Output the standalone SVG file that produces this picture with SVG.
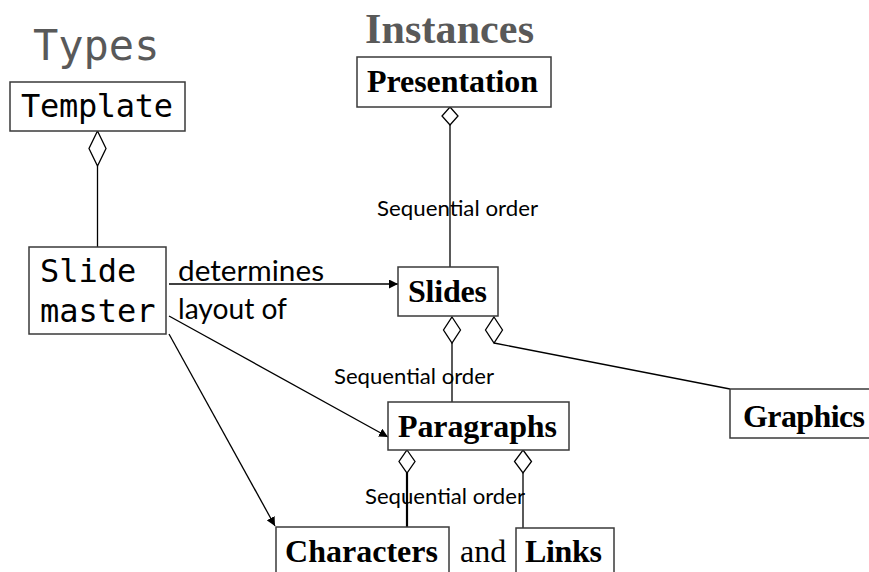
<svg xmlns="http://www.w3.org/2000/svg" width="869" height="572" viewBox="0 0 869 572">
<style>
.box{fill:#fff;stroke:#3a3a3a;stroke-width:1.5}
.mono{font-family:"DejaVu Sans Mono",monospace;font-size:32px;fill:#000}
.bold{font-family:"Liberation Serif",serif;font-weight:bold;font-size:32px;fill:#000}
.serif{font-family:"Liberation Serif",serif;font-size:32px;fill:#000}
.lbl{font-family:Lato,"Open Sans",sans-serif;fill:#000}
.seq{font-size:21px}
.ln{stroke:#000;stroke-width:1.3;fill:none}
.dia{fill:#fff;stroke:#000;stroke-width:1.3}
</style>
<defs>
<marker id="arr" viewBox="0 0 10 10" refX="10" refY="5" markerWidth="9" markerHeight="9" markerUnits="userSpaceOnUse" orient="auto">
<path d="M0,0 L10,5 L0,10 z" fill="#000"/>
</marker>
</defs>
<g id="titles">
<text x="33" y="60" font-family="DejaVu Sans Mono,monospace" font-size="42" fill="#595959">Types</text>
<text x="365" y="43" font-family="Liberation Serif,serif" font-weight="bold" font-size="42" fill="#595959" textLength="169">Instances</text>
</g>
<g id="connectors">
<line class="ln" x1="97.5" y1="166" x2="97.5" y2="247"/>
<line class="ln" x1="450" y1="125" x2="450" y2="267"/>
<line class="ln" x1="452" y1="343" x2="452" y2="402"/>
<polyline class="ln" points="494,343 730,389"/>
<line x1="407" y1="473" x2="407" y2="527" stroke="#000" stroke-width="2.2"/>
<line class="ln" x1="523" y1="473" x2="523" y2="528"/>
<line class="ln" x1="169" y1="284" x2="398" y2="284" marker-end="url(#arr)"/>
<line class="ln" x1="169" y1="316" x2="388" y2="437" marker-end="url(#arr)"/>
<line class="ln" x1="169" y1="334" x2="275" y2="526" marker-end="url(#arr)"/>
<polygon class="dia" points="97.5,131 106,148.5 97.5,166 89,148.5"/>
<polygon class="dia" points="450,107 458,116 450,125 442,116"/>
<polygon class="dia" points="452,317 460.5,330 452,343 443.5,330"/>
<polygon class="dia" points="494,317 502.5,330 494,343 485.5,330"/>
<polygon class="dia" points="407,450 415,461.5 407,473 399,461.5"/>
<polygon class="dia" points="523,450 531.5,461.5 523,473 514.5,461.5"/>
<text class="lbl seq" x="377" y="216" textLength="161" lengthAdjust="spacingAndGlyphs">Sequential order</text>
<text class="lbl seq" x="334" y="384" textLength="160" lengthAdjust="spacingAndGlyphs">Sequential order</text>
<text class="lbl seq" x="365" y="504" textLength="160" lengthAdjust="spacingAndGlyphs">Sequential order</text>
<text class="lbl" x="178" y="281" font-size="29" textLength="146" lengthAdjust="spacingAndGlyphs">determines</text>
<text class="lbl" x="178" y="319" font-size="29" textLength="109" lengthAdjust="spacingAndGlyphs">layout of</text>
</g>
<g id="template">
<rect class="box" x="10" y="82" width="175" height="49"/>
<text class="mono" x="21" y="117" textLength="152">Template</text>
</g>
<g id="slide-master">
<rect class="box" x="29" y="247" width="137" height="87"/>
<text class="mono" x="40" y="282">Slide</text>
<text class="mono" x="40" y="322">master</text>
</g>
<g id="presentation">
<rect class="box" x="357" y="57" width="194" height="50"/>
<text class="bold" x="367" y="92" textLength="171">Presentation</text>
</g>
<g id="slides">
<rect class="box" x="398" y="267" width="100" height="49"/>
<text class="bold" x="408" y="302" textLength="79">Slides</text>
</g>
<g id="paragraphs">
<rect class="box" x="388" y="402" width="181" height="48"/>
<text class="bold" x="398" y="437" textLength="159">Paragraphs</text>
</g>
<g id="graphics">
<rect class="box" x="730" y="389" width="145" height="49"/>
<text class="bold" x="743" y="427" font-size="31" textLength="122">Graphics</text>
</g>
<g id="characters">
<rect class="box" x="276" y="527" width="173" height="60"/>
<text class="bold" x="285" y="562" textLength="153">Characters</text>
</g>
<text class="serif" x="460" y="562">and</text>
<g id="links">
<rect class="box" x="516" y="528" width="98" height="60"/>
<text class="bold" x="525" y="562" textLength="77">Links</text>
</g>
</svg>
